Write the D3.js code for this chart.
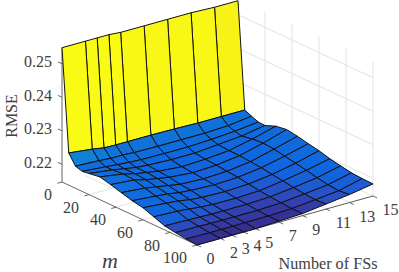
<!DOCTYPE html>
<html>
<head>
<meta charset="utf-8">
<script src="https://cdnjs.cloudflare.com/ajax/libs/d3/7.8.5/d3.min.js"></script>
<style>
  html, body { margin: 0; padding: 0; background: #fff; }
  text { font-family: "Liberation Serif", serif; fill: #404040; }
</style>
</head>
<body>
<div id="chart"></div>
<script>
var svgWidth = 399;
var svgHeight = 272;

// data
var fsValues = [0, 2, 3, 4, 5, 7, 9, 11, 13, 15];
var mValues = [0, 5, 10, 15, 20, 28, 36, 44, 52, 60, 68, 76, 84, 92, 100];
var fsTicks = [0, 2, 3, 4, 5, 7, 9, 11, 13, 15];
var mTicks = [0, 20, 40, 60, 80, 100];
var rmseTicks = [0.22, 0.23, 0.24, 0.25];

// one row per m value, one column per number of FSs
var rmse = [
  [0.2548, 0.2548, 0.2548, 0.2548, 0.2545, 0.2545, 0.2545, 0.2545, 0.2542, 0.2542],
  [0.2243, 0.2235, 0.2229, 0.2228, 0.2228, 0.2228, 0.2227, 0.2225, 0.2225, 0.2225],
  [0.2213, 0.2210, 0.2207, 0.2207, 0.2205, 0.2204, 0.2204, 0.2204, 0.2207, 0.2216],
  [0.2207, 0.2201, 0.2198, 0.2195, 0.2193, 0.2192, 0.2192, 0.2195, 0.2200, 0.2208],
  [0.2210, 0.2201, 0.2195, 0.2189, 0.2186, 0.2183, 0.2183, 0.2189, 0.2195, 0.2207],
  [0.2215, 0.2204, 0.2195, 0.2189, 0.2183, 0.2177, 0.2180, 0.2186, 0.2201, 0.2220],
  [0.2207, 0.2201, 0.2192, 0.2186, 0.2180, 0.2174, 0.2177, 0.2186, 0.2204, 0.2225],
  [0.2198, 0.2192, 0.2186, 0.2180, 0.2174, 0.2171, 0.2174, 0.2183, 0.2201, 0.2220],
  [0.2189, 0.2183, 0.2180, 0.2174, 0.2171, 0.2168, 0.2171, 0.2180, 0.2195, 0.2213],
  [0.2183, 0.2177, 0.2174, 0.2168, 0.2165, 0.2163, 0.2166, 0.2175, 0.2189, 0.2207],
  [0.2171, 0.2168, 0.2165, 0.2161, 0.2159, 0.2158, 0.2161, 0.2171, 0.2183, 0.2198],
  [0.2159, 0.2157, 0.2156, 0.2155, 0.2155, 0.2155, 0.2158, 0.2166, 0.2176, 0.2192],
  [0.2154, 0.2153, 0.2152, 0.2152, 0.2152, 0.2152, 0.2155, 0.2162, 0.2170, 0.2186],
  [0.2150, 0.2149, 0.2149, 0.2149, 0.2150, 0.2150, 0.2153, 0.2160, 0.2167, 0.2184],
  [0.2147, 0.2147, 0.2147, 0.2147, 0.2147, 0.2150, 0.2153, 0.2162, 0.2171, 0.2183]
];

var rmseFloor = 0.2147;
var rmseTop = 0.2548;

var svg = d3.select("#chart")
  .append("svg")
  .attr("width", svgWidth)
  .attr("height", svgHeight)
  .style("display", "block");

// oblique projection: each data axis gets its own x / y pixel shift
var fsX = d3.scaleLinear().domain([0, 15]).range([0, 176]);
var fsY = d3.scaleLinear().domain([0, 15]).range([0, -49]);
var mX = d3.scaleLinear().domain([0, 100]).range([62, 197]);
var mY = d3.scaleLinear().domain([0, 100]).range([182, 245]);
var zY = d3.scaleLinear().domain([rmseFloor, rmseTop]).range([0, -134.3]);

function project(fs, m, z) {
  return [fsX(fs) + mX(m), fsY(fs) + mY(m) + zY(z)];
}

// parula-like colour map, stretched over the rmse range
var parula = d3.scaleLinear()
  .domain([0, 0.012, 0.025, 0.045, 0.08, 0.2, 0.3, 0.5, 0.75, 0.9, 1])
  .range(["#352a87", "#3536a2", "#2f48ba", "#1f5ad2", "#0f66e0", "#0f72da", "#0f9bd0", "#33b7a0", "#a5be6a", "#f5c02a", "#f9fb14"])
  .clamp(true);
var color = d => parula((d - rmseFloor) / (rmseTop - rmseFloor));

var line = d3.line();

// background grid
var gridGroup = svg.append("g")
  .attr("fill", "none")
  .attr("stroke", "#e6e6e6")
  .attr("stroke-width", 1.1);

// right wall
rmseTicks.forEach(function(z) {
  gridGroup.append("path").attr("d", line([project(15, 0, z), project(15, 100, z)]));
});
mTicks.filter(d => d > 0).forEach(function(m) {
  gridGroup.append("path").attr("d", line([project(15, m, rmseFloor), project(15, m, rmseTop)]));
});
// floor
mTicks.filter(d => d > 0).forEach(function(m) {
  gridGroup.append("path").attr("d", line([project(0, m, rmseFloor), project(15, m, rmseFloor)]));
});
fsTicks.filter(d => d > 0).forEach(function(fs) {
  gridGroup.append("path").attr("d", line([project(fs, 0, rmseFloor), project(fs, 100, rmseFloor)]));
});

// axis lines and ticks
var axisGroup = svg.append("g")
  .attr("fill", "none")
  .attr("stroke", "#404040")
  .attr("stroke-width", 0.8);

axisGroup.append("path").attr("d", line([project(0, 0, rmseFloor), project(0, 0, rmseTop)]));
axisGroup.append("path").attr("d", line([project(0, 0, rmseFloor), project(0, 100, rmseFloor)]));
axisGroup.append("path").attr("d", line([project(0, 100, rmseFloor), project(15, 100, rmseFloor)]));

rmseTicks.forEach(function(z) {
  axisGroup.append("path").attr("d", line([project(0, 0, z), project(0, -3, z)]));
});
mTicks.forEach(function(m) {
  axisGroup.append("path").attr("d", line([project(0, m, rmseFloor), project(-0.4, m, rmseFloor)]));
});
fsTicks.forEach(function(fs) {
  axisGroup.append("path").attr("d", line([project(fs, 100, rmseFloor), project(fs, 103, rmseFloor)]));
});

// surface, far faces first
var surfaceGroup = svg.append("g")
  .attr("stroke", "#111")
  .attr("stroke-width", 1)
  .attr("stroke-linejoin", "round");

d3.range(mValues.length - 1).forEach(function(i) {
  d3.range(fsValues.length - 2, -1, -1).forEach(function(j) {
    var quad = [
      project(fsValues[j], mValues[i], rmse[i][j]),
      project(fsValues[j + 1], mValues[i], rmse[i][j + 1]),
      project(fsValues[j + 1], mValues[i + 1], rmse[i + 1][j + 1]),
      project(fsValues[j], mValues[i + 1], rmse[i + 1][j])
    ];
    surfaceGroup.append("path")
      .attr("d", line(quad) + "Z")
      .attr("fill", color(rmse[i][j]));
  });
});

// tick labels
var labelGroup = svg.append("g").attr("font-size", 16);

labelGroup.selectAll(".z-label")
  .data(rmseTicks)
  .enter()
  .append("text")
  .attr("x", 52)
  .attr("y", d => project(0, 0, d)[1] - 2)
  .attr("dy", "0.35em")
  .attr("text-anchor", "end")
  .text(d => d3.format(".2f")(d));

labelGroup.selectAll(".m-label")
  .data(mTicks)
  .enter()
  .append("text")
  .attr("x", d => project(0, d, rmseFloor)[0] - 10)
  .attr("y", d => project(0, d, rmseFloor)[1] + 12.5)
  .attr("dy", "0.35em")
  .attr("text-anchor", "end")
  .text(d => d);

labelGroup.selectAll(".fs-label")
  .data(fsTicks)
  .enter()
  .append("text")
  .attr("x", d => project(d, 100, rmseFloor)[0] + 9.6)
  .attr("y", d => project(d, 100, rmseFloor)[1] + 13.5)
  .attr("dy", "0.35em")
  .attr("text-anchor", "start")
  .text(d => d);

// axis titles
svg.append("text")
  .attr("transform", "translate(17, 116) rotate(-90)")
  .attr("text-anchor", "middle")
  .attr("font-size", 16)
  .text("RMSE");

svg.append("text")
  .attr("x", 110)
  .attr("y", 268)
  .attr("text-anchor", "middle")
  .attr("font-size", 22)
  .attr("font-style", "italic")
  .text("m");

svg.append("text")
  .attr("x", 328)
  .attr("y", 269)
  .attr("text-anchor", "middle")
  .attr("font-size", 16.2)
  .text("Number of FSs");
</script>
</body>
</html>
